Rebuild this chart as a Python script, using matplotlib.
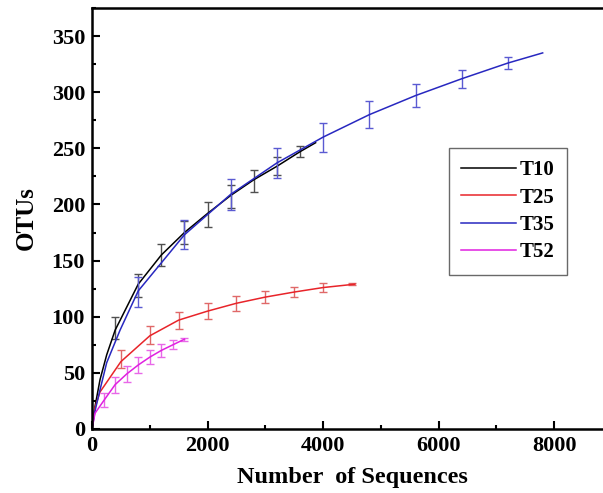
import matplotlib
matplotlib.use("Agg")
import matplotlib.pyplot as plt
from matplotlib.ticker import MultipleLocator

plt.rcParams["font.family"] = ["Liberation Serif", "DejaVu Serif"]
plt.rcParams["font.weight"] = "bold"

# line samples
t10_x = [0, 52, 139, 254, 400, 800, 1200, 1600, 2000, 2400, 2800, 3200, 3600, 3870]
t10_y = [0, 20, 44, 66, 88, 129, 155, 175, 192, 208, 222, 234, 247, 255]
t25_x = [0, 52, 139, 500, 1000, 1500, 2000, 2500, 3000, 3500, 4000, 4550]
t25_y = [0, 19, 33, 60, 83, 97, 105, 112, 117.5, 122, 126, 129]
t35_x = [0, 52, 139, 254, 485, 800, 1600, 2400, 3200, 4000, 4800, 5600, 6400, 7200, 7800]
t35_y = [0, 16, 35, 59, 88, 123, 173, 209, 237, 260, 280, 297, 312, 326, 335]
t52_x = [0, 52, 200, 400, 600, 800, 1000, 1200, 1400, 1600]
t52_y = [0, 14, 25, 39.5, 49, 57, 64, 70, 75, 80]

# error bars (x, mean, half-width)
t10_ex = [400, 800, 1200, 1600, 2000, 2400, 2800, 3200, 3600]
t10_ey = [90, 128, 155, 175, 191, 207, 221, 234, 247]
t10_ee = [10, 10, 10, 10, 11.5, 10.5, 10, 8, 5]
t25_ex = [500, 1000, 1500, 2000, 2500, 3000, 3500, 4000, 4500]
t25_ey = [62, 84, 97, 105, 112, 117.5, 122, 126, 129]
t25_ee = [8, 8, 7.5, 7, 6.5, 5.5, 4.5, 4, 1]
t35_ex = [800, 1600, 2400, 3200, 4000, 4800, 5600, 6400, 7200]
t35_ey = [122, 173, 209, 237, 260, 280, 297, 312, 326]
t35_ee = [13, 13, 13.5, 13, 13, 12, 10, 8, 5]
t52_ex = [200, 400, 600, 800, 1000, 1200, 1400, 1600]
t52_ey = [26, 39.5, 49, 57, 64, 70, 75, 80]
t52_ee = [6.5, 7, 7, 7, 6, 5.5, 4, 1.5]

series = [
    ("T10", t10_x, t10_y, t10_ex, t10_ey, t10_ee, "#000000", "#505050"),
    ("T25", t25_x, t25_y, t25_ex, t25_ey, t25_ee, "#e8242a", "#e06868"),
    ("T35", t35_x, t35_y, t35_ex, t35_ey, t35_ee, "#2828c0", "#5a5ad2"),
    ("T52", t52_x, t52_y, t52_ex, t52_ey, t52_ee, "#e020e0", "#e868e8"),
]

fig = plt.figure(figsize=(6.03, 4.93), dpi=100)
ax = fig.add_axes([92 / 603, 64 / 493, 520 / 603, 421 / 493])

for name, x, y, ex, ey, ee, color, ecolor in series:
    ax.errorbar(ex, ey, yerr=ee, fmt="none", ecolor=ecolor, elinewidth=1.0,
                capsize=3, capthick=1.0)
    ax.plot(x, y, color=color, lw=1.1, label=name)

ax.set_xlim(0, 9000)
ax.set_ylim(0, 375)
ax.xaxis.set_major_locator(MultipleLocator(2000))
ax.xaxis.set_minor_locator(MultipleLocator(1000))
ax.yaxis.set_major_locator(MultipleLocator(50))
ax.yaxis.set_minor_locator(MultipleLocator(25))
ax.tick_params(which="both", direction="in", width=1.5, labelsize=16)
ax.tick_params(which="major", length=6, pad=5)
ax.tick_params(which="minor", length=3)
for s in ax.spines.values():
    s.set_linewidth(1.8)

ax.set_xlabel("Number  of Sequences", fontsize=17.5, fontweight="bold", labelpad=8)
ax.set_ylabel("OTUs", fontsize=18, fontweight="bold", labelpad=10)

leg = ax.legend(loc="upper left", bbox_to_anchor=(0.6865, 0.6675),
                borderaxespad=0, fontsize=15, frameon=True, fancybox=False,
                edgecolor="#444444", handlelength=2.6, handletextpad=0.2,
                labelspacing=0.35, borderpad=0.6)
leg.get_frame().set_linewidth(1.0)
for t in leg.get_texts():
    t.set_fontweight("bold")

fig.savefig("out.png", dpi=100)
